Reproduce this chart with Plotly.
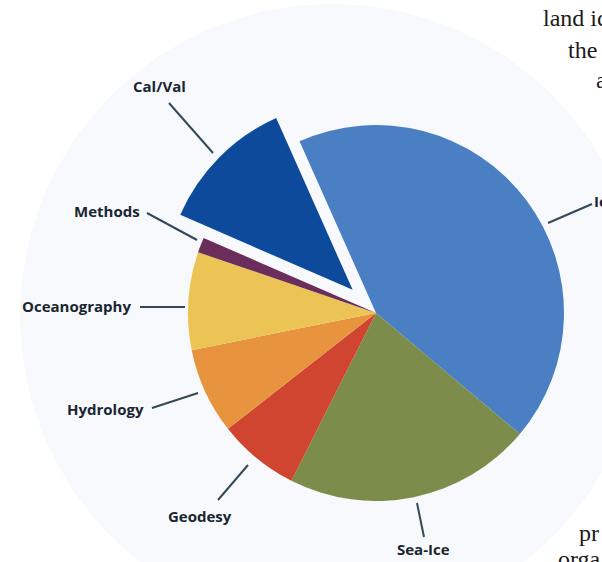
import plotly.graph_objects as go

# ---- data (share of studies, %) ----
categories = ["Ice", "Sea-Ice", "Geodesy", "Hydrology", "Oceanography", "Methods", "Cal/Val"]
shares = [42.8, 21.3, 7.0, 7.4, 8.4, 1.3, 11.8]
pulled = ["Cal/Val"]

colors = {
    "Ice": "#4a7fc3",
    "Sea-Ice": "#7b8c4b",
    "Geodesy": "#cf452f",
    "Hydrology": "#e8943f",
    "Oceanography": "#ecc455",
    "Methods": "#6a2d5c",
    "Cal/Val": "#0d4a9c",
}

W, H = 602, 562
CX, CY, R, PULL = 376, 313, 188, 0.175

def px(x):
    return x / W

def py(y):
    return 1 - y / H

half = R * (1 + PULL)

fig = go.Figure()
fig.add_trace(go.Pie(
    labels=categories,
    values=shares,
    sort=False,
    direction="clockwise",
    rotation=-24,
    pull=[PULL if c in pulled else 0 for c in categories],
    marker=dict(colors=[colors[c] for c in categories], line=dict(width=0)),
    textinfo="none",
    hoverinfo="label+percent",
    showlegend=False,
    domain=dict(x=[px(CX - half), px(CX + half)], y=[py(CY + half), py(CY - half)]),
))

# faint background disc
BCX, BCY, BR = 332, 316, 312
shapes = [dict(type="circle", xref="paper", yref="paper",
               x0=px(BCX - BR), x1=px(BCX + BR), y0=py(BCY + BR), y1=py(BCY - BR),
               fillcolor="#f7f9fc", line=dict(width=0), layer="below")]

# label placement (text anchor point, leader line start/end) in pixels
label_pos = {
    "Cal/Val": ((159, 86, "center"), (169, 103, 213, 153)),
    "Methods": ((107, 211, "center"), (147, 213, 197, 240)),
    "Oceanography": ((76, 306, "center"), (140, 307, 185, 307)),
    "Hydrology": ((106, 409, "center"), (152, 408, 198, 393)),
    "Geodesy": ((200, 516, "center"), (218, 500, 248, 465)),
    "Sea-Ice": ((423, 549, "center"), (417, 503, 424, 537)),
    "Ice": ((592, 201, "left"), (548, 223, 592, 204)),
}

annotations = []
for c in categories:
    (tx, ty, anchor), (x0, y0, x1, y1) = label_pos[c]
    annotations.append(dict(
        x=px(tx), y=py(ty), xref="paper", yref="paper", text=c,
        showarrow=False, xanchor=anchor, yanchor="middle",
        font=dict(family="Open Sans", size=15, color="#1a2530", weight="bold"),
    ))
    shapes.append(dict(type="line", xref="paper", yref="paper",
                       x0=px(x0), y0=py(y0), x1=px(x1), y1=py(y1),
                       line=dict(color="#33495a", width=2)))

# surrounding body-text fragments of the page
body_text = [("land ic", 541, 18), ("the", 566, 50), ("a", 594, 80),
             ("pr", 577, 533), ("orga", 556, 559)]
for t, tx, ty in body_text:
    annotations.append(dict(
        x=px(tx), y=py(ty), xref="paper", yref="paper", text=t,
        showarrow=False, xanchor="left", yanchor="middle",
        font=dict(family="Liberation Serif", size=24, color="#1a1a1a"),
    ))

fig.update_layout(
    width=W, height=H,
    margin=dict(l=0, r=0, t=0, b=0),
    paper_bgcolor="white", plot_bgcolor="white",
    shapes=shapes, annotations=annotations,
)

fig.write_html("out.html", config={"displayModeBar": False},
               post_script="document.body.style.margin='0px';")
